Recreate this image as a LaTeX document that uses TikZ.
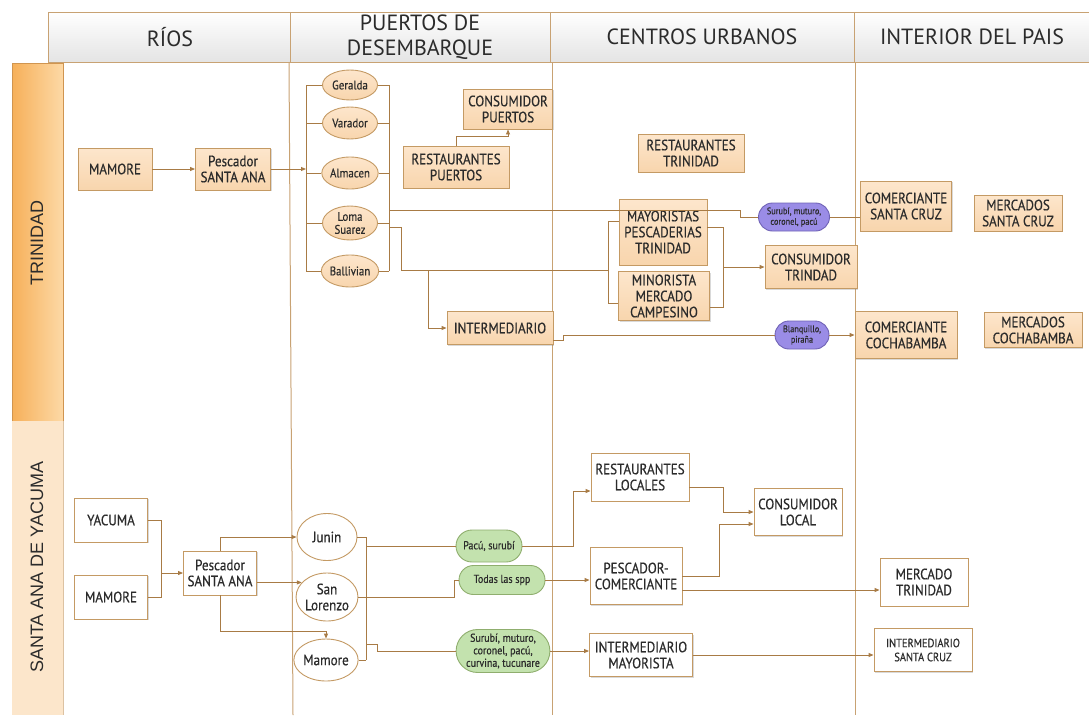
\documentclass[tikz,border=0pt]{standalone}
\usepackage{fontspec}
\setmainfont{PT Sans}
\newfontfamily\cnd[FakeStretch=0.87, FakeBold=0.45]{PT Sans}
\newfontfamily\lanefont{Liberation Sans}
\usetikzlibrary{arrows.meta, shapes.geometric, shapes.misc, shadows, positioning}

\definecolor{edge}{HTML}{C49A64}
\definecolor{peachT}{HTML}{FDE6CC}
\definecolor{peachB}{HTML}{F8D5AD}
\definecolor{ink}{HTML}{2B2B2B}
\definecolor{wirec}{HTML}{A87B45}
\definecolor{gridc}{HTML}{C8A273}
\definecolor{lilac}{HTML}{9A8CE6}
\definecolor{lilacE}{HTML}{6F62B5}
\definecolor{mint}{HTML}{C3E2AE}
\definecolor{mintE}{HTML}{8FAE6E}
\definecolor{laneA}{HTML}{F6B05A}
\definecolor{laneAr}{HTML}{FDD9A6}
\definecolor{laneB}{HTML}{FCE6CB}
\definecolor{hdgrey}{HTML}{E4E4E4}

\begin{document}
\begin{tikzpicture}[x=1pt, y=-1pt,
  base/.style={draw=edge, line width=0.9pt, align=center, inner sep=1pt, text=ink,
    font=\cnd\fontsize{15}{16}\selectfont,
    drop shadow={shadow xshift=1.2pt, shadow yshift=-1.2pt, opacity=0.3}},
  box/.style={base, top color=peachT, bottom color=peachB},
  wbox/.style={base, fill=white},
  port/.style={ellipse, draw=edge, top color=peachT, bottom color=peachB, line width=0.9pt,
    inner sep=0pt, align=center, text=ink, font=\cnd\fontsize{12.5}{13}\selectfont},
  wport/.style={ellipse, draw=edge, fill=white, line width=0.9pt, inner sep=0pt, align=center,
    text=ink, font=\cnd\fontsize{15}{16}\selectfont},
  fish/.style={rounded rectangle, draw=lilacE, fill=lilac, line width=0.9pt, inner sep=1pt,
    align=center, text=ink, font=\cnd\fontsize{9.5}{10.5}\selectfont},
  gfish/.style={fish, draw=mintE, fill=mint, font=\cnd\fontsize{11.5}{12.5}\selectfont},
  wire/.style={draw=wirec, line width=0.9pt},
  arr/.style={wire, -{Triangle[length=5pt, width=4pt]}},
  hdcell/.style={draw=gridc, line width=0.9pt, top color=white, bottom color=hdgrey},
  hdtext/.style={font=\fontsize{22}{25}\selectfont, align=center, text=ink},
  lane/.style={rotate=90, text=ink, font=\lanefont\fontsize{18}{20}\selectfont},
  grid/.style={draw=gridc, line width=1pt}]

  \useasboundingbox (0,0) rectangle (1089,715);

  % Header
  \draw[hdcell] (48,12) rectangle (290,62);
  \draw[hdcell] (290,12) rectangle (550,62);
  \draw[hdcell] (550,12) rectangle (854,62);
  \draw[hdcell] (854,12) rectangle (1089,62);
  \node[hdtext] (hRios) at (170,37) {RÍOS};
  \node[hdtext] (hPuertos) at (420,37) {PUERTOS DE\\DESEMBARQUE};
  \node[hdtext] (hCentros) at (702,37) {CENTROS URBANOS};
  \node[hdtext] (hInterior) at (972,37) {INTERIOR DEL PAIS};

  % Column lines
  \draw[grid] (289,62) -- (293,715);
  \draw[grid] (552,62) -- (552,715);
  \draw[grid] (855,62) -- (855,715);

  % Lanes
  \shade[left color=laneA, right color=laneAr] (12,63) rectangle (63,421);
  \draw[draw=edge!80!orange, line width=0.8pt] (12,63) rectangle (63,421);
  \fill[laneB] (12,421) rectangle (63,715);
  \draw[draw=edge!60, line width=0.6pt] (63,421) -- (63,715);
  \node[lane] (lTri) at (37,243) {TRINIDAD};
  \node[lane] (lSan) at (37,567) {SANTA ANA DE YACUMA};

  % Trinidad
  \node[box, minimum width=74, minimum height=42] (mamT) at (115,169) {MAMORE};
  \node[box, minimum width=75, minimum height=42] (pescT) at (233,169) {Pescador\\SANTA ANA};
  \node[port, minimum width=55, minimum height=30] (ger) at (350,85) {Geralda};
  \node[port, minimum width=55, minimum height=32] (var) at (350,123) {Varador};
  \node[port, minimum width=55, minimum height=32] (alm) at (350,173) {Almacen};
  \node[port, minimum width=55, minimum height=34] (loma) at (350,223) {Loma\\Suarez};
  \node[port, minimum width=55, minimum height=32] (ball) at (350,271) {Ballivian};
  \node[box, minimum width=89, minimum height=40] (consP) at (508,109) {CONSUMIDOR\\PUERTOS};
  \node[box, minimum width=106, minimum height=42] (restP) at (456,167) {RESTAURANTES\\PUERTOS};
  \node[box, minimum width=106, minimum height=38] (restT) at (691,153) {RESTAURANTES\\TRINIDAD};
  \node[box, minimum width=88, minimum height=66] (mayo) at (663,232) {MAYORISTAS\\PESCADERIAS\\TRINIDAD};
  \node[box, minimum width=91, minimum height=49] (mino) at (664,296) {MINORISTA\\MERCADO\\CAMPESINO};
  \node[box, minimum width=92, minimum height=43] (consT) at (811,267) {CONSUMIDOR\\TRINDAD};
  \node[box, minimum width=106, minimum height=33] (inter) at (500,328) {INTERMEDIARIO};
  \node[fish, minimum width=73, minimum height=28] (fishA) at (794,217) {Surubí, muturo,\\coronel, pacú};
  \node[fish, minimum width=56, minimum height=28] (fishB) at (802,335) {Blanquillo,\\piraña};
  \node[box, minimum width=91, minimum height=50] (comSC) at (906,206) {COMERCIANTE\\SANTA CRUZ};
  \node[box, minimum width=88, minimum height=36] (merSC) at (1018,213) {MERCADOS\\SANTA CRUZ};
  \node[box, minimum width=102, minimum height=47] (comCB) at (906,335) {COMERCIANTE\\COCHABAMBA};
  \node[box, minimum width=98, minimum height=35] (merCB) at (1033,330) {MERCADOS\\COCHABAMBA};

  % Trinidad brackets
  \coordinate (lbTop) at (306,80);
  \coordinate (rbTop) at (389,80);
  \foreach \p in {ger,var,alm,loma,ball} {
    \draw[wire] (\p.west) -- (\p.west -| lbTop);
    \draw[wire] (\p.east) -- (\p.east -| rbTop);
  }
  \draw[wire] (ger.west -| lbTop) -- (ball.west -| lbTop);
  \draw[wire] (ger.east -| rbTop) -- (ball.east -| rbTop);
  \coordinate (toSC) at (389,210);
  \coordinate (lomaOut) at (389,227);
  \coordinate (mlMid) at (608,270);
  \coordinate (brI) at (428,270);
  \coordinate (mlA) at (608,221);
  \coordinate (mlB) at (608,303);
  \coordinate (mrA) at (723,227);
  \coordinate (mrB) at (723,307);
  \coordinate (iOut) at (553,340);

  % Trinidad flows
  \draw[arr] (mamT) -- (pescT);
  \draw[arr] (pescT.east) -- (pescT.east -| lbTop);
  \draw[arr] (restP.north) -- ++(0,-9) -| (consP.south);
  \draw[wire] (toSC) -- (740,210) |- (fishA.west);
  \draw[wire] (fishA.east) -- (comSC.west |- fishA.east);
  \draw[wire] (lomaOut) -- ++(12,0) |- (mlMid);
  \draw[arr] (brI) |- (inter.west);
  \draw[wire] (mayo.west |- mlA) -- (mlA) -- (mlB) -- (mino.west |- mlB);
  \draw[wire] (mayo.east |- mrA) -- (mrA) -- (mrB) -- (mino.east |- mrB);
  \draw[arr] (consT.west -| mrA) -- (consT.west);
  \draw[wire] (iOut) -- ++(10,0) |- (fishB.west);
  \draw[arr] (fishB.east) -- (comCB.west |- fishB.east);

  % Santa Ana de Yacuma
  \node[wbox, minimum width=73, minimum height=44] (yac) at (111,520) {YACUMA};
  \node[wbox, minimum width=73, minimum height=44] (mamS) at (111,597) {MAMORE};
  \node[wbox, minimum width=73, minimum height=44] (pescS) at (220,573) {Pescador\\SANTA ANA};
  \node[wport, minimum width=60, minimum height=47] (jun) at (327,537) {Junin};
  \node[wport, minimum width=60, minimum height=48] (slor) at (327,597) {San\\Lorenzo};
  \node[wport, minimum width=60, minimum height=42] (mamE) at (326,660) {Mamore};
  \node[gfish, minimum width=68, minimum height=32] (fishC) at (489,546) {Pacú, surubí};
  \node[gfish, minimum width=88, minimum height=29] (fishD) at (502,580) {Todas las spp};
  \node[gfish, minimum width=88, minimum height=43] (fishE) at (503,651) {Surubí, muturo,\\coronel, pacú,\\curvina, tucunare};
  \node[wbox, minimum width=98, minimum height=48] (restL) at (640,477) {RESTAURANTES\\LOCALES};
  \node[wbox, minimum width=88, minimum height=47] (consL) at (798,512) {CONSUMIDOR\\LOCAL};
  \node[wbox, minimum width=92, minimum height=57] (pesCom) at (636,576) {PESCADOR-\\COMERCIANTE};
  \node[wbox, minimum width=103, minimum height=43] (intMay) at (641,655) {INTERMEDIARIO\\MAYORISTA};
  \node[wbox, minimum width=88, minimum height=48] (merT) at (924,582) {MERCADO\\TRINIDAD};
  \node[wbox, minimum width=98, minimum height=43, font=\cnd\fontsize{12}{14}\selectfont] (intSC) at (923,650) {INTERMEDIARIO\\SANTA CRUZ};

  % Santa Ana brackets
  \coordinate (sbTop) at (161,520);
  \coordinate (sbBot) at (161,597);
  \coordinate (jbTop) at (366,540);
  \coordinate (tdK) at (454,597);
  \coordinate (meK) at (377,644);
  \coordinate (rlK) at (573,491);
  \coordinate (mtIn) at ([yshift=-8pt]merT.west);
  \coordinate (clIn) at ([yshift=-12pt]consL.west);

  % Santa Ana flows
  \draw[wire] (yac.east) -- (sbTop) -- (sbBot) -- (mamS.east);
  \draw[arr] (sbBot |- pescS.west) -- (pescS.west);
  \draw[arr] (pescS.north) |- (jun.west);
  \draw[arr] (pescS.east |- slor.150) -- (slor.150);
  \draw[arr] (pescS.south) -- ++(0,36) -| (mamE.north);
  \foreach \p in {jun,slor,mamE} {
    \draw[wire] (\p.east) -- (\p.east -| jbTop);
  }
  \draw[wire] (jun.east -| jbTop) -- (mamE.east -| jbTop);
  \draw[wire] (jbTop |- fishC.west) -- (fishC.west);
  \draw[arr] (fishC.east) -| (rlK) -- (restL.west |- rlK);
  \draw[wire] (jbTop |- tdK) -- (tdK) |- (fishD.west);
  \draw[arr] (fishD.east) -- (pesCom.west |- fishD.east);
  \draw[wire] (jbTop |- meK) -- (meK) |- (fishE.west);
  \draw[arr] (fishE.east) -- (intMay.west |- fishE.east);
  \draw[arr] (restL.-12) -- ++(34,0) |- (consL.west);
  \draw[arr] (pesCom.east) -- ++(37,0) |- (clIn);
  \draw[arr] (pesCom.east |- mtIn) -- (mtIn);
  \draw[arr] (intMay.east) -- (intSC.west |- intMay.east);
\end{tikzpicture}
\end{document}
